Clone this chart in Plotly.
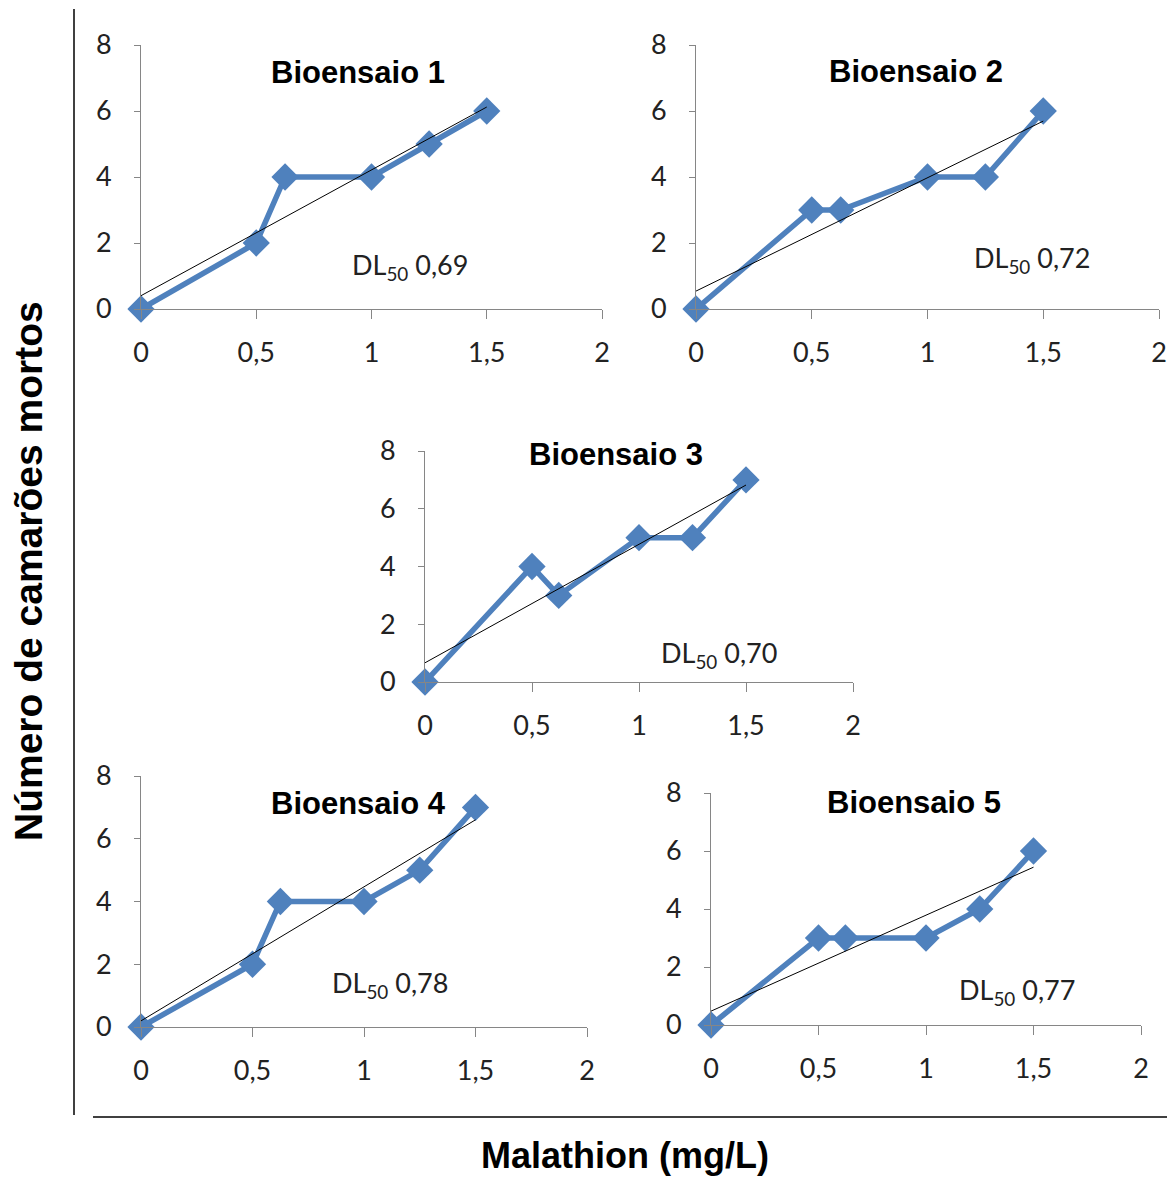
import numpy as np
import plotly.graph_objects as go

conc = [0, 0.5, 0.625, 1, 1.25, 1.5]
bio1 = [0, 2, 4, 4, 5, 6]
bio2 = [0, 3, 3, 4, 4, 6]
bio3 = [0, 4, 3, 5, 5, 7]
bio4 = [0, 2, 4, 4, 5, 7]
bio5 = [0, 3, 3, 3, 4, 6]
titles = ["Bioensaio 1", "Bioensaio 2", "Bioensaio 3", "Bioensaio 4", "Bioensaio 5"]
dl50 = ["0,69", "0,72", "0,70", "0,78", "0,77"]
series = [bio1, bio2, bio3, bio4, bio5]
xticks = [0, 0.5, 1, 1.5, 2]
xticktext = ["0", "0,5", "1", "1,5", "2"]
yticks = [0, 2, 4, 6, 8]

OFF = 8  # page body margin
W, H = 1175 - OFF, 1178 - OFF


def px(x):
    return (x - OFF) / W


def py(y):
    return 1 - (y - OFF) / H


# pixel boxes in the reference: (x0, x2, y0px, y8px)
boxes = [
    (141, 602, 309, 45),
    (696, 1159, 309, 45),
    (425, 853, 682, 451),
    (141, 587, 1027, 776),
    (711, 1141, 1025, 793),
]
title_pos = [(358, 72), (916, 71), (616, 455), (358, 803), (914, 802)]
dl_pos = [(350, 266), (972, 259), (659, 654), (330, 984), (957, 991)]

BLUE = "#4F81BD"
AX = "#868686"
TICKFONT = dict(family="Lato, Open Sans, sans-serif", size=27, color="#222")
fig = go.Figure()
layout = dict()
annotations = []
for i, (ys, box) in enumerate(zip(series, boxes)):
    n = "" if i == 0 else str(i + 1)
    xa, ya = "x" + n, "y" + n
    fig.add_trace(go.Scatter(x=conc, y=ys, mode="lines+markers", xaxis=xa, yaxis=ya,
                             line=dict(color=BLUE, width=5.5),
                             marker=dict(symbol="diamond", size=21, color=BLUE),
                             showlegend=False, cliponaxis=False))
    slope, icpt = np.polyfit(conc, ys, 1)
    tx = [conc[0], conc[-1]]
    fig.add_trace(go.Scatter(x=tx, y=[icpt + slope * v for v in tx], mode="lines",
                             xaxis=xa, yaxis=ya, line=dict(color="black", width=1),
                             showlegend=False, cliponaxis=False))
    x0, x2, y0, y8 = box
    layout["xaxis" + n] = dict(domain=[px(x0), px(x2)], anchor=ya, range=[0, 2],
                              tickvals=xticks, ticktext=xticktext, showgrid=False,
                              zeroline=False, showline=True, linecolor=AX, linewidth=1,
                              ticks="outside", ticklen=9, tickcolor=AX,
                              ticklabelstandoff=11, tickfont=TICKFONT)
    layout["yaxis" + n] = dict(domain=[py(y0), py(y8)], anchor=xa, range=[0, 8],
                              tickvals=yticks, showgrid=False, zeroline=False,
                              showline=True, linecolor=AX, linewidth=1,
                              ticks="outside", ticklen=6, tickcolor=AX,
                              ticklabelstandoff=17, tickfont=TICKFONT)
    tx_, ty_ = title_pos[i]
    annotations.append(dict(x=px(tx_), y=py(ty_), xref="paper", yref="paper",
                            text="<b>" + titles[i] + "</b>", showarrow=False,
                            xanchor="center", yanchor="middle",
                            font=dict(family="Liberation Sans, Arial", size=31, color="black")))
    dx, dy = dl_pos[i]
    annotations.append(dict(x=px(dx), y=py(dy), xref="paper", yref="paper",
                            text="DL<sub>50</sub> " + dl50[i], showarrow=False,
                            xanchor="left", yanchor="middle",
                            font=dict(family="Lato, Open Sans, sans-serif", size=27, color="#222")))

annotations.append(dict(x=px(625), y=py(1155), xref="paper", yref="paper",
                        text="<b>Malathion (mg/L)</b>", showarrow=False,
                        xanchor="center", yanchor="middle",
                        font=dict(family="Liberation Sans, Arial", size=36, color="black")))
annotations.append(dict(x=px(28), y=py(571), xref="paper", yref="paper",
                        text="<b>Número de camarões mortos</b>", showarrow=False, textangle=-90,
                        xanchor="center", yanchor="middle",
                        font=dict(family="Liberation Sans, Arial", size=39, color="black")))

shapes = [
    dict(type="line", xref="paper", yref="paper", x0=px(74), x1=px(74), y0=py(9), y1=py(1115),
         line=dict(color="black", width=1.5)),
    dict(type="line", xref="paper", yref="paper", x0=px(93), x1=px(1170), y0=py(1117), y1=py(1117),
         line=dict(color="black", width=1.5)),
]

fig.update_layout(width=W, height=H, margin=dict(l=0, r=0, t=0, b=0, pad=0, autoexpand=False),
                  plot_bgcolor="white", paper_bgcolor="white",
                  annotations=annotations, shapes=shapes, **layout)
fig.write_html("out.html")
